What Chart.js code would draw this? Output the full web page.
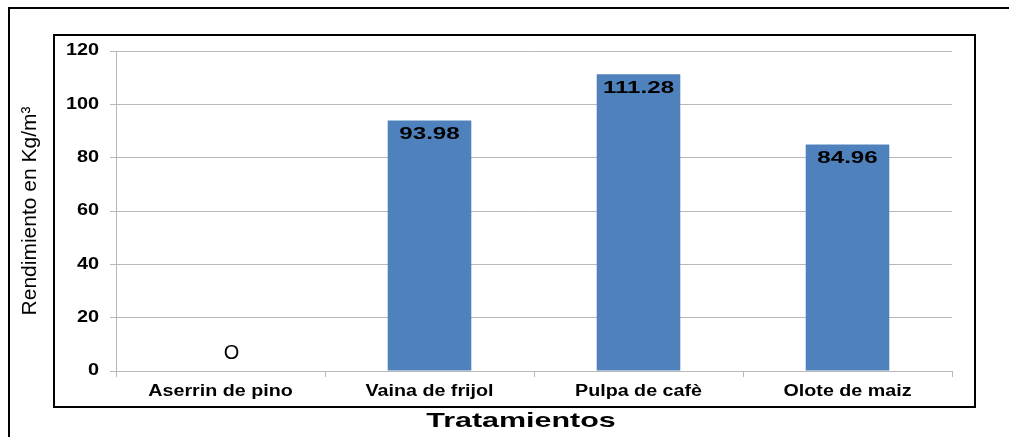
<!DOCTYPE html>
<html lang="es">
<head>
  <meta charset="UTF-8">
  <title>Rendimiento por tratamiento</title>
  <style>
    body { margin: 0; padding: 0; background: #fff; }
    #wrap { width: 1009px; height: 437px; position: relative; }
  </style>
  <script src="https://cdn.jsdelivr.net/npm/chart.js"></script>
</head>
<body>
  <div id="wrap">
    <canvas id="chart" width="1009" height="437"></canvas>
  </div>

  <script>
    // data
    const categories = ["Aserrin de pino", "Vaina de frijol", "Pulpa de cafè", "Olote de maiz"];
    const rendimiento = [0, 93.98, 111.28, 84.96];
    const valueLabels = ["O", "93.98", "111.28", "84.96"];
    const yTicks = [0, 20, 40, 60, 80, 100, 120];

    const FONT = "'Liberation Sans', Arial, sans-serif";

    // draw text squeezed/stretched horizontally around its anchor point
    function wideText(ctx, text, x, y, sx) {
      ctx.save();
      ctx.translate(x, y);
      ctx.scale(sx, 1);
      CanvasRenderingContext2D.prototype.fillText.call(ctx, text, 0, 0);
      ctx.restore();
    }

    // the original chart text looks stretched sideways, so wrap the scale's text drawing
    function stretched(scale, fn, sx, shiftX) {
      if (scale["_st_" + fn]) return;
      scale["_st_" + fn] = true;
      const orig = scale[fn];
      scale[fn] = function (...args) {
        const ctx = this.ctx;
        ctx.fillText = function (t, x, y) { wideText(this, t, x, y, sx); };
        ctx.save();
        ctx.translate(shiftX || 0, 0);
        orig.apply(this, args);
        ctx.restore();
        delete ctx.fillText;
      };
    }

    const stretchPlugin = {
      id: "stretch",
      afterLayout(chart) {
        stretched(chart.scales.x, "drawLabels", 1.23, 0);
        stretched(chart.scales.x, "drawTitle", 1.45, -13);
        stretched(chart.scales.y, "drawLabels", 1.24, 0);
      }
    };

    // frames round the chart
    const framePlugin = {
      id: "frames",
      afterDraw(chart) {
        const ctx = chart.ctx;
        ctx.save();
        ctx.strokeStyle = "#000";
        ctx.lineWidth = 2;
        ctx.beginPath();
        ctx.moveTo(9, 437);
        ctx.lineTo(9, 8);
        ctx.lineTo(1009, 8);
        ctx.stroke();
        ctx.strokeRect(54, 35, 921, 372);
        ctx.restore();
      }
    };

    // values written inside the top of each bar
    const labelPlugin = {
      id: "barLabels",
      afterDatasetsDraw(chart) {
        const ctx = chart.ctx;
        const meta = chart.getDatasetMeta(0);
        ctx.save();
        ctx.fillStyle = "#000";
        ctx.textAlign = "center";
        ctx.textBaseline = "middle";
        meta.data.forEach((bar, i) => {
          if (rendimiento[i] === 0) {
            ctx.font = "20px " + FONT;
            ctx.fillText(valueLabels[i], bar.x + 11, bar.y - 18);
          } else {
            ctx.font = "bold 17px " + FONT;
            wideText(ctx, valueLabels[i], bar.x, bar.y + 14, 1.42);
          }
        });
        ctx.restore();
      }
    };

    new Chart(document.getElementById("chart"), {
      type: "bar",
      data: {
        labels: categories,
        datasets: [{
          data: rendimiento,
          backgroundColor: "#4F81BD",
          barPercentage: 0.4,
          categoryPercentage: 1.0
        }]
      },
      options: {
        responsive: false,
        animation: false,
        layout: { padding: { top: 51, right: 57, bottom: 0, left: 0 } },
        plugins: {
          legend: { display: false },
          tooltip: { enabled: false }
        },
        scales: {
          x: {
            grid: {
              display: true,
              drawOnChartArea: false,
              offset: true,
              color: "#b8b8b8",
              tickLength: 6
            },
            border: { color: "#b8b8b8", width: 1 },
            ticks: {
              color: "#000",
              padding: 5,
              font: { family: FONT, size: 16, weight: "bold" }
            },
            title: {
              display: true,
              text: "Tratamientos",
              color: "#000",
              padding: { top: 3, bottom: 3 },
              font: { family: FONT, size: 21, weight: "bold" }
            },
            afterFit(scale) { scale.height = 66; }
          },
          y: {
            min: 0,
            max: 120,
            afterBuildTicks(scale) { scale.ticks = yTicks.map(v => ({ value: v })); },
            grid: { color: "#b8b8b8", tickLength: 6 },
            border: { color: "#b8b8b8", width: 1 },
            ticks: {
              color: "#000",
              padding: 11,
              font: { family: FONT, size: 16, weight: "bold" }
            },
            title: {
              display: true,
              text: "Rendimiento en Kg/m³",
              color: "#000",
              padding: { top: 18, bottom: 0 },
              font: { family: FONT, size: 21 }
            },
            afterFit(scale) { scale.width = 116; }
          }
        }
      },
      plugins: [stretchPlugin, labelPlugin, framePlugin]
    });
  </script>
</body>
</html>
